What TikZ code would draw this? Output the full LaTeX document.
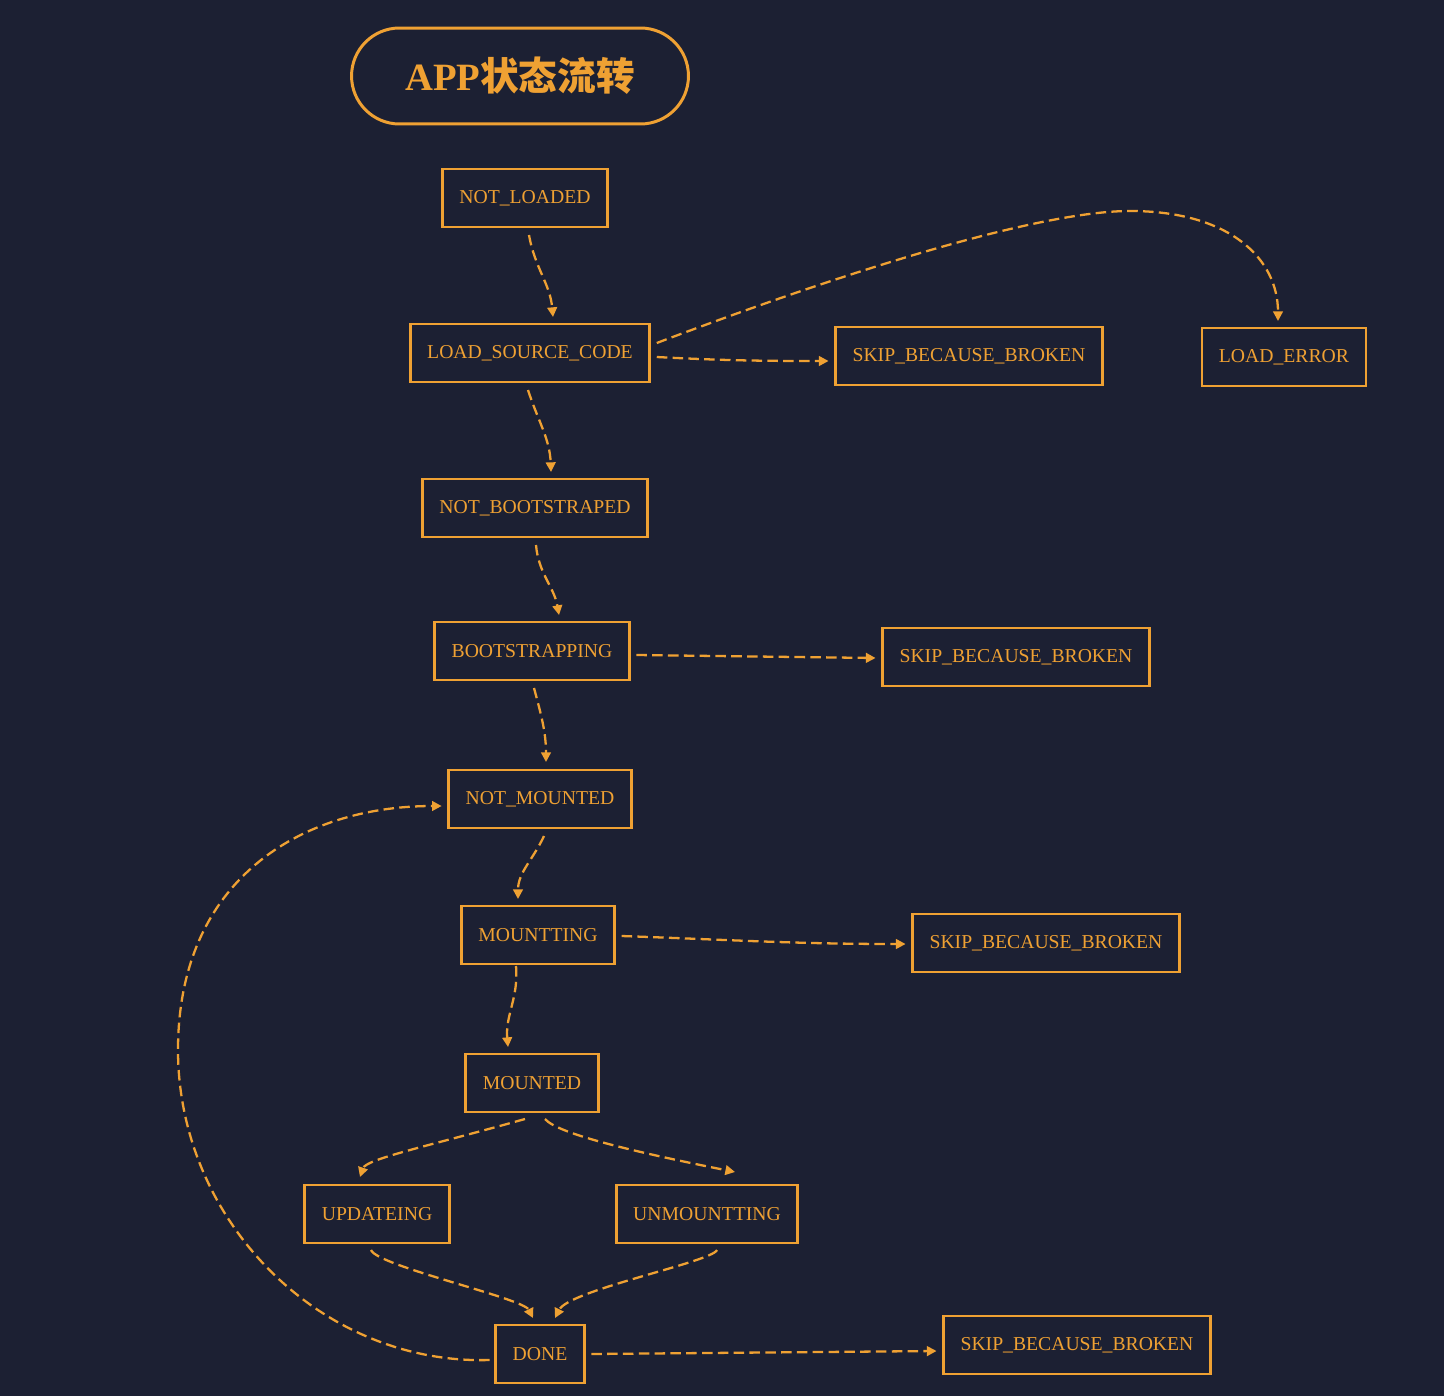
\documentclass[tikz,border=0pt]{standalone}
\usepackage{fontspec}
\setmainfont{Liberation Serif}
\newfontfamily\cjkfont{Noto Sans CJK SC}
\usetikzlibrary{arrows.meta,calc}

\definecolor{bgnavy}{HTML}{1C2033}
\definecolor{amber}{HTML}{EFA133}

\begin{document}
\begin{tikzpicture}[x=0.02cm,y=-0.02cm,
  state/.style={draw=amber, line width=1.6pt, text=amber, minimum height=1.16cm, inner xsep=0.34cm, outer sep=0pt, font=\fontsize{11.2}{13}\selectfont},
  flow/.style={draw=amber, line width=1.3pt, dash pattern=on 6pt off 3pt, -{Triangle[length=5.5pt,width=5.5pt]}}]

\fill[bgnavy] (0,0) rectangle (1444,1396);

\node[draw=amber, line width=1.7pt, rounded corners=0.96cm, minimum width=6.74cm, minimum height=1.92cm, text=amber, font=\fontsize{22}{26}\selectfont\bfseries] (title) at (520,76) {APP{\cjkfont 状态流转}};

% main chain
\node[state] (nl) at (525,198) {NOT\_LOADED};
\node[state] (lsc) at (530,353) {LOAD\_SOURCE\_CODE};
\node[state] (skipa) at (969,356) {SKIP\_BECAUSE\_BROKEN};
\node[state] (lerr) at (1284,357) {LOAD\_ERROR};
\node[state] (nbs) at (535,508) {NOT\_BOOTSTRAPED};
\node[state] (bs) at (532,651) {BOOTSTRAPPING};
\node[state] (skipb) at (1016,657) {SKIP\_BECAUSE\_BROKEN};
\node[state] (nm) at (540,799) {NOT\_MOUNTED};
\node[state] (mt) at (538,935) {MOUNTTING};
\node[state] (skipc) at (1046,943) {SKIP\_BECAUSE\_BROKEN};
\node[state] (md) at (532,1083) {MOUNTED};
\node[state] (upd) at (377,1214) {UPDATEING};
\node[state] (unm) at (707,1214) {UNMOUNTTING};
\node[state] (dn) at (540,1354) {DONE};
\node[state] (skipd) at (1077,1345) {SKIP\_BECAUSE\_BROKEN};

\coordinate (lepeak) at (1130,211);
\coordinate (loopw) at (178,1050);

\draw[flow] ($(nl.south)+(4,8)$) to[out=-80,in=95] ($(lsc.north)+(23,-7)$);
\draw[flow] ($(lsc.south)+(-2,8)$) to[out=-72,in=92] ($(nbs.north)+(16,-7)$);
\draw[flow] ($(nbs.south)+(1,8)$) to[out=-85,in=100] ($(bs.north)+(27,-7)$);
\draw[flow] ($(bs.south)+(2,8)$) to[out=-75,in=90] ($(nm.north)+(6,-8)$);
\draw[flow] ($(nm.south)+(4,8)$) to[out=-115,in=90] ($(mt.north)+(-20,-7)$);
\draw[flow] ($(mt.south)+(-22,2)$) to[out=-85,in=95] ($(md.north)+(-24,-7)$);
\draw[flow] ($(md.south)+(-7,7)$) .. controls +(-100,28) and +(6,-18) .. ($(upd.north)+(-17,-8)$);
\draw[flow] ($(md.south)+(13,7)$) .. controls +(12,14) and +(-110,-22) .. ($(unm.north)+(28,-13)$);
\draw[flow] ($(upd.south)+(-6,7)$) .. controls +(6,16) and +(-10,-20) .. ($(dn.north)+(-7,-7)$);
\draw[flow] ($(unm.south)+(10,7)$) .. controls +(-5,12) and +(14,-28) .. ($(dn.north)+(15,-7)$);

% skip branches
\draw[flow] ($(lsc.east)+(7,4)$) to[out=-3,in=180] ($(skipa.west)+(-7,5)$);
\draw[flow] ($(bs.east)+(7,4)$) -- ($(skipb.west)+(-7,1)$);
\draw[flow] ($(mt.east)+(7,1)$) to[out=-2,in=180] ($(skipc.west)+(-7,1)$);
\draw[flow] ($(dn.east)+(7,0)$) -- ($(skipd.west)+(-7,6)$);

% long arcs
\draw[flow] ($(lsc.east)+(7,-10)$) .. controls +(193,-73) and +(-90,0) .. (lepeak) .. controls +(100,0) and +(0,-62) .. ($(lerr.north)+(-6,-7)$);
\draw[flow] ($(dn.west)+(-6,6)$) .. controls +(-170,5) and +(0,170) .. (loopw) .. controls +(0,-170) and +(-141,0) .. ($(nm.west)+(-7,7)$);
\end{tikzpicture}
\end{document}
